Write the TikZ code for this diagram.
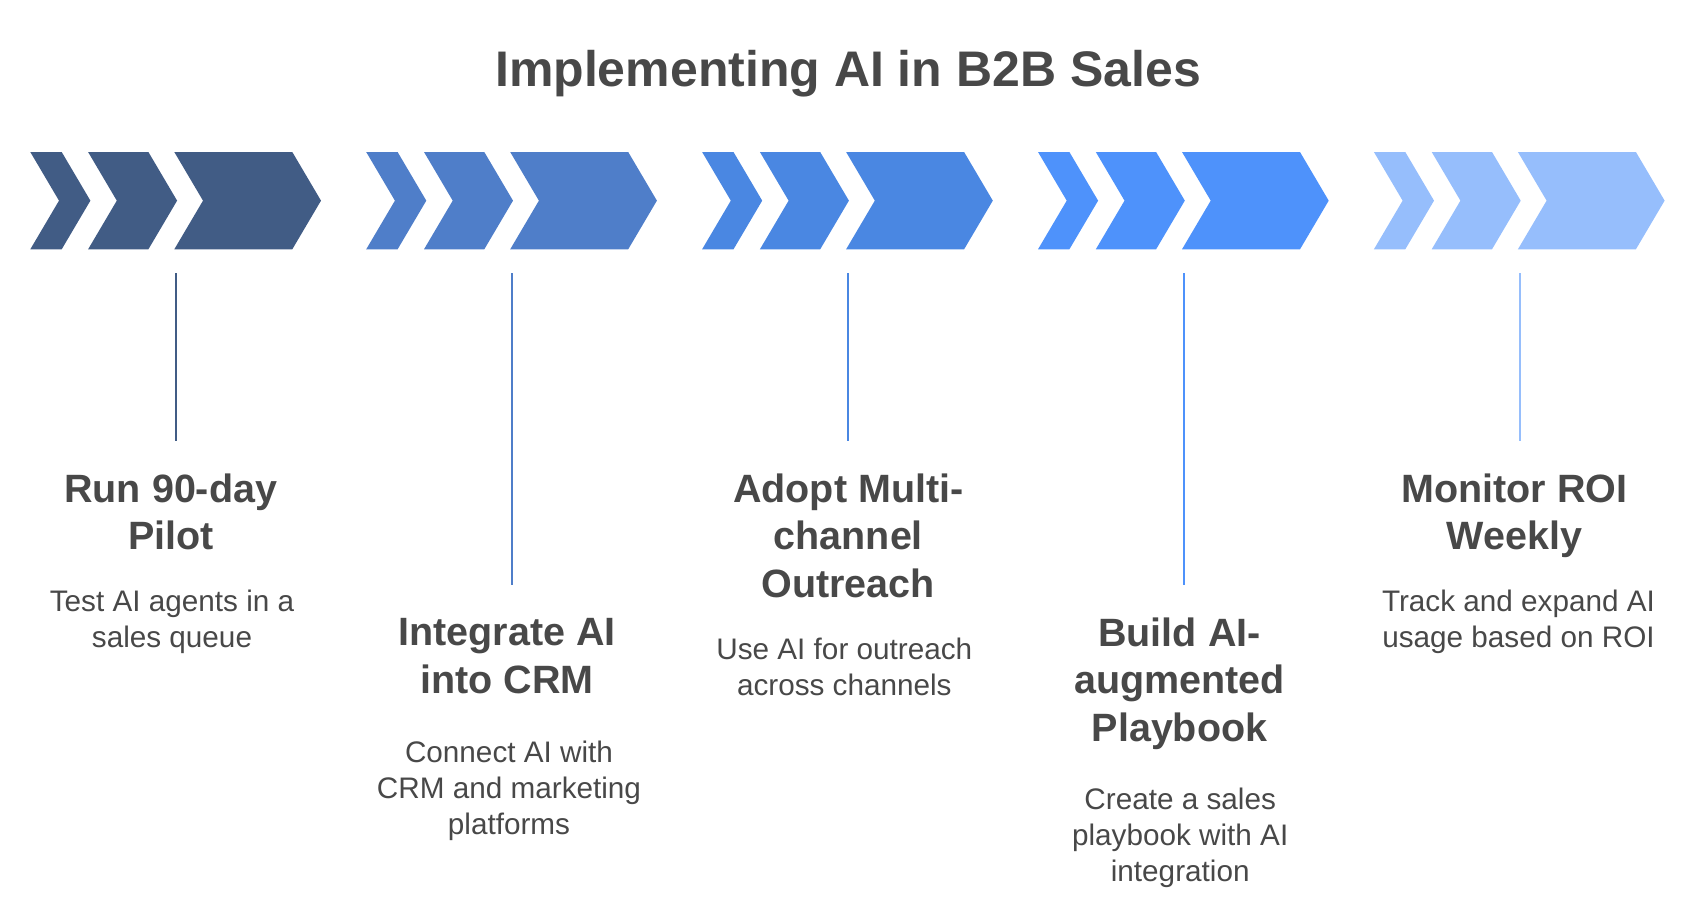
\documentclass[tikz,border=0pt]{standalone}
\usepackage{fontspec}
\setmainfont{Liberation Sans}
\definecolor{gA}{HTML}{415C85}
\definecolor{gB}{HTML}{4F7EC9}
\definecolor{gC}{HTML}{4A87E2}
\definecolor{gD}{HTML}{4E92FB}
\definecolor{gE}{HTML}{96BEFC}
\definecolor{txt}{HTML}{484848}
\newcommand\chevshape[3]{%
  \fill[#3] (#1,152) -- ++(#2,0) -- ++(28.7,48.65) -- ++(-28.7,48.65) -- ++(-#2,0) -- ++(28.7,-48.65) -- cycle;}
\tikzset{
  titletext/.style={text=txt, anchor=base, inner sep=0pt, font=\fontsize{50}{58}\selectfont\bfseries},
  headtext/.style={text=txt, anchor=base, inner sep=0pt, align=center, font=\fontsize{39.5}{47.5}\selectfont\bfseries},
  desctext/.style={text=txt, anchor=base, inner sep=0pt, align=center, font=\fontsize{29.7}{36}\selectfont},
  stem/.style={line width=2pt},
}
\begin{document}
\begin{tikzpicture}[x=1pt,y=-1pt]
\useasboundingbox (0,0) rectangle (1691,907);
\node[titletext] (title) at (848,86) {Implementing AI in B2B Sales};
% chevron groups
\foreach \i/\c in {0/gA,1/gB,2/gC,3/gD,4/gE}{
  \pgfmathsetmacro\xo{30.3+335.9*\i}
  \chevshape{\xo}{31.4}{\c}
  \chevshape{\xo+57.8}{60.3}{\c}
  \chevshape{\xo+144}{118}{\c}
}
% stems
\coordinate (t1) at (176,273);   \coordinate (b1) at (176,440.7);
\coordinate (t2) at (512,273);   \coordinate (b2) at (512,584.7);
\coordinate (t3) at (847.8,273); \coordinate (b3) at (847.8,440.7);
\coordinate (t4) at (1183.7,273);\coordinate (b4) at (1183.7,584.7);
\coordinate (t5) at (1519.6,273);\coordinate (b5) at (1519.6,440.7);
\draw[stem, gA] (t1) -- (b1);
\draw[stem, gB] (t2) -- (b2);
\draw[stem, gC] (t3) -- (b3);
\draw[stem, gD] (t4) -- (b4);
\draw[stem, gE] (t5) -- (b5);
% headings (anchored at the baseline of their last line)
\node[headtext] (h1) at (170.8,549.7) {Run 90-day\\Pilot};
\node[headtext] (h2) at (507,693) {Integrate AI\\into CRM};
\node[headtext] (h3) at (848.3,597) {Adopt Multi-\\channel\\Outreach};
\node[headtext] (h4) at (1179.5,741) {Build AI-\\augmented\\Playbook};
\node[headtext] (h5) at (1514.4,549.5) {Monitor ROI\\Weekly};
% descriptions (anchored at the baseline of their last line)
\node[desctext] (d1) at (172,647.2) {Test AI agents in a\\sales queue};
\node[desctext] (d2) at (509,834.3) {Connect AI with\\CRM and marketing\\platforms};
\node[desctext] (d3) at (844.3,695) {Use AI for outreach\\across channels};
\node[desctext] (d4) at (1180.2,881.8) {Create a sales\\playbook with AI\\integration};
\node[desctext] (d5) at (1518.5,647.2) {Track and expand AI\\usage based on ROI};
\end{tikzpicture}
\end{document}
